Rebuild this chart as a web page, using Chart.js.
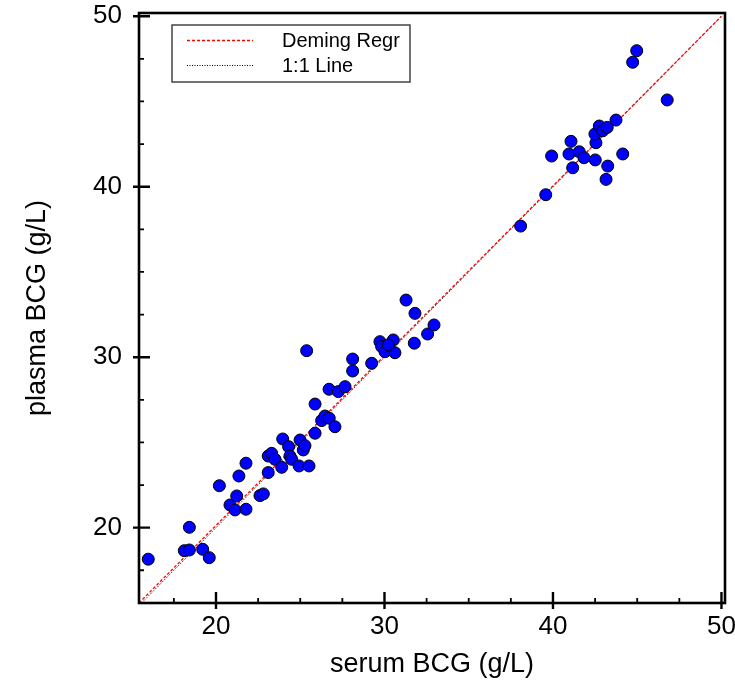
<!DOCTYPE html>
<html>
<head>
<meta charset="utf-8">
<script src="https://cdn.jsdelivr.net/npm/chart.js@4.4.1/dist/chart.umd.min.js"></script>
<style>
html, body { margin: 0; padding: 0; background: #fff; }
canvas { display: block; }
</style>
</head>
<body>
<canvas id="bcg_chart" width="735" height="687"></canvas>
<script>
// serum vs plasma BCG (g/L)
const serumBCG = [
    15.98, 18.42, 18.12, 18.42, 19.21, 19.60, 20.20, 20.83, 21.23, 21.13,
    21.78, 21.36, 21.78, 22.61, 22.81, 23.10, 23.10, 23.30, 23.50, 23.90,
    23.96, 24.31, 24.39, 24.49, 24.93, 24.99, 25.18, 25.28, 25.52, 25.88,
    25.38, 25.88, 26.71, 27.26, 27.66, 26.27, 26.47, 26.72, 27.06, 28.11,
    28.11, 29.24, 29.73, 29.83, 30.03, 30.52, 30.62, 30.23, 31.28, 31.81,
    31.77, 32.56, 32.94, 38.08, 39.57, 39.92, 41.07, 40.95, 41.17, 41.56,
    41.84, 42.55, 42.49, 42.75, 42.95, 43.22, 43.74, 42.51, 43.25, 43.15,
    44.14, 46.78, 44.97, 44.73
];
const plasmaBCG = [
    18.15, 20.02, 18.65, 18.69, 18.73, 18.24, 22.46, 21.33, 21.86, 21.04,
    21.08, 23.03, 23.78, 21.88, 21.98, 23.23, 24.20, 24.36, 24.01, 23.54,
    25.20, 24.75, 24.20, 24.01, 23.62, 25.14, 24.56, 24.81, 23.62, 25.54,
    30.38, 27.25, 28.12, 27.98, 28.27, 26.28, 26.55, 26.42, 25.92, 29.89,
    29.19, 29.64, 30.91, 30.62, 30.32, 31.01, 30.26, 30.72, 33.35, 32.57,
    30.82, 31.36, 31.89, 37.69, 39.53, 41.80, 42.66, 41.92, 41.11, 42.05,
    41.70, 42.58, 43.09, 43.56, 43.28, 43.48, 43.91, 41.57, 41.21, 40.43,
    41.92, 45.09, 47.98, 47.30
];

// line end points
const demingX = [15.43, 50];
const demingY = [15.58, 50];
const identityX = [15.58, 50];
const identityY = [15.58, 50];

const majorTicks = [20, 30, 40, 50];
const minorTicks = [17.5, 22.5, 25, 27.5, 32.5, 35, 37.5, 42.5, 45, 47.5];

const FONT = '"Liberation Sans", Arial, Helvetica, sans-serif';

function toPoints(xs, ys) {
    return xs.map((v, i) => ({ x: v, y: ys[i] }));
}

// box + crossing major ticks + inner minor ticks
const frameTicks = {
    id: 'frameTicks',
    afterDatasetsDraw(chart) {
        const { ctx, chartArea: a, scales: { x, y } } = chart;
        ctx.save();
        ctx.strokeStyle = '#000';
        ctx.lineWidth = 2.6;
        ctx.strokeRect(a.left, a.top, a.right - a.left, a.bottom - a.top);

        ctx.lineWidth = 2.4;
        ctx.beginPath();
        majorTicks.forEach(v => {
            const px = x.getPixelForValue(v);
            ctx.moveTo(px, a.bottom + 6);
            ctx.lineTo(px, a.bottom - 11);
            const py = y.getPixelForValue(v);
            ctx.moveTo(a.left - 6, py);
            ctx.lineTo(a.left + 11, py);
        });
        ctx.stroke();

        ctx.lineWidth = 1.8;
        ctx.beginPath();
        minorTicks.forEach(v => {
            const px = x.getPixelForValue(v);
            ctx.moveTo(px, a.bottom);
            ctx.lineTo(px, a.bottom - 5);
            const py = y.getPixelForValue(v);
            ctx.moveTo(a.left, py);
            ctx.lineTo(a.left + 5, py);
        });
        ctx.stroke();
        ctx.restore();
    }
};

// legend box in the upper left corner of the plot
const boxLegend = {
    id: 'boxLegend',
    afterDraw(chart) {
        const ctx = chart.ctx;
        const items = chart.data.datasets.filter(d => d.showLine);
        ctx.save();
        ctx.fillStyle = '#fff';
        ctx.fillRect(172, 25, 238, 57);
        ctx.strokeStyle = '#444';
        ctx.lineWidth = 1.5;
        ctx.strokeRect(172, 25, 238, 57);
        items.forEach((d, i) => {
            const yy = 40.5 + i * 25;
            ctx.strokeStyle = d.borderColor;
            ctx.lineWidth = d.borderWidth;
            ctx.setLineDash(d.borderDash);
            ctx.beginPath();
            ctx.moveTo(187, yy);
            ctx.lineTo(253, yy);
            ctx.stroke();
            ctx.setLineDash([]);
            ctx.fillStyle = '#000';
            ctx.font = '20px ' + FONT;
            ctx.textBaseline = 'middle';
            ctx.fillText(d.label, 282, yy + 1);
        });
        ctx.restore();
    }
};

const ctx = document.getElementById('bcg_chart').getContext('2d');
const bcgChart = new Chart(ctx, {
    type: 'scatter',
    data: {
        datasets: [
            {
                label: 'samples',
                data: toPoints(serumBCG, plasmaBCG),
                pointRadius: 6,
                pointBackgroundColor: '#0000ff',
                pointBorderColor: '#000',
                pointBorderWidth: 1,
                order: 0
            },
            {
                label: 'Deming Regr',
                data: toPoints(demingX, demingY),
                showLine: true,
                pointRadius: 0,
                borderColor: '#ff0000',
                borderWidth: 1.3,
                borderDash: [3, 2],
                order: 1
            },
            {
                label: '1:1 Line',
                data: toPoints(identityX, identityY),
                showLine: true,
                pointRadius: 0,
                borderColor: '#000',
                borderWidth: 1,
                borderDash: [1, 1.5],
                order: 2
            }
        ]
    },
    options: {
        responsive: false,
        devicePixelRatio: 1,
        animation: false,
        layout: {
            padding: { top: 13, right: 10, left: 0, bottom: 0 }
        },
        scales: {
            x: {
                type: 'linear',
                min: 15.43,
                max: 50.21,
                afterBuildTicks: s => { s.ticks = majorTicks.map(v => ({ value: v })); },
                afterFit: s => { s.height = 84; s.paddingLeft = 0; s.paddingRight = 0; },
                grid: { display: false, drawTicks: false },
                border: { display: false },
                ticks: { color: '#000', padding: 8, font: { size: 26, family: FONT } },
                title: {
                    display: true,
                    text: 'serum BCG (g/L)',
                    color: '#000',
                    font: { size: 27, family: FONT },
                    padding: { top: 0, bottom: 6 }
                }
            },
            y: {
                type: 'linear',
                min: 15.58,
                max: 50.19,
                afterBuildTicks: s => { s.ticks = majorTicks.map(v => ({ value: v })); },
                afterFit: s => { s.width = 139; s.paddingTop = 0; s.paddingBottom = 0; },
                grid: { display: false, drawTicks: false },
                border: { display: false },
                ticks: { color: '#000', padding: 17, font: { size: 26, family: FONT } },
                title: {
                    display: true,
                    text: 'plasma BCG (g/L)',
                    color: '#000',
                    font: { size: 27, family: FONT },
                    padding: { top: 21, bottom: 0 }
                }
            }
        },
        plugins: {
            legend: { display: false },
            tooltip: { enabled: false }
        }
    },
    plugins: [frameTicks, boxLegend]
});
</script>
</body>
</html>
